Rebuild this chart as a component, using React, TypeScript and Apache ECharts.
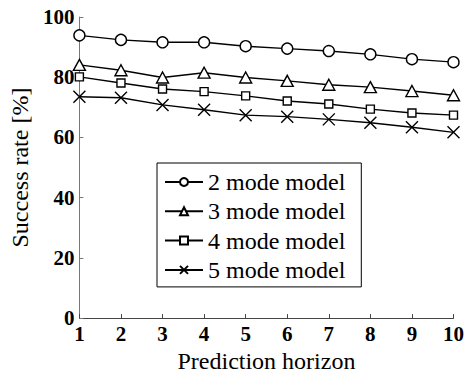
import React, { useEffect, useRef } from "react";
import * as echarts from "echarts";

const horizons = ["1", "2", "3", "4", "5", "6", "7", "8", "9", "10"];
const seriesNames = ["2 mode model", "3 mode model", "4 mode model", "5 mode model"];
const mode2 = [93.9, 92.4, 91.6, 91.6, 90.3, 89.5, 88.7, 87.6, 86.0, 85.0];
const mode3 = [84.1, 82.3, 79.9, 81.5, 79.9, 78.8, 77.5, 76.7, 75.4, 74.0];
const mode4 = [80.1, 78.1, 76.1, 75.2, 73.8, 72.1, 71.1, 69.4, 68.1, 67.4];
const mode5 = [73.5, 73.2, 70.8, 69.2, 67.4, 66.9, 66.0, 64.9, 63.4, 61.7];
const yTicks = [0, 20, 40, 60, 80, 100];

const FONT = "Liberation Serif, Times New Roman, Times, DejaVu Serif, serif";
const CROSS = "path://M0,0L10,10M10,0L0,10";

export default function App() {
  const ref = useRef<HTMLDivElement>(null);
  useEffect(() => {
    if (!ref.current) return;
    const chart = echarts.init(ref.current, undefined, { renderer: "svg" });
    const values = [mode2, mode3, mode4, mode5];
    const symbols = ["circle", "triangle", "rect", CROSS];
    const sizes: any[] = [11, [12, 11], 8, 12];
    chart.setOption({
      animation: false,
      backgroundColor: "#fff",
      textStyle: { fontFamily: FONT },
      grid: { left: 75, right: 12, top: 17, bottom: 48 },
      legend: {
        left: 157,
        top: 163,
        orient: "vertical",
        padding: [7, 16, 5, 7],
        itemGap: 5.3,
        itemWidth: 38,
        itemHeight: 10,
        itemTextGap: 5,
        borderColor: "#000",
        borderWidth: 1,
        backgroundColor: "#fff",
        data: seriesNames,
        textStyle: { fontFamily: FONT, fontSize: 24, lineHeight: 24, color: "#000" },
      },
      xAxis: {
        type: "category",
        data: horizons,
        boundaryGap: false,
        name: "Prediction horizon",
        nameLocation: "middle",
        nameGap: 23,
        nameTextStyle: { fontFamily: FONT, fontSize: 24, color: "#000" },
        axisLine: { lineStyle: { color: "#444", width: 1 } },
        axisTick: { inside: true, length: 4, alignWithLabel: true, lineStyle: { color: "#444" } },
        axisLabel: { margin: 5, fontFamily: FONT, fontSize: 21, fontWeight: "bold", color: "#000", interval: 0 },
        splitLine: { show: false },
      },
      yAxis: {
        type: "value",
        min: yTicks[0],
        max: yTicks[yTicks.length - 1],
        interval: 20,
        name: "Success rate [%]",
        nameLocation: "middle",
        nameGap: 41,
        nameTextStyle: { fontFamily: FONT, fontSize: 24, color: "#000" },
        axisLine: { show: true, lineStyle: { color: "#777", width: 1 } },
        axisTick: { show: true, inside: true, length: 4, lineStyle: { color: "#777" } },
        axisLabel: { margin: 5, fontFamily: FONT, fontSize: 21, fontWeight: "bold", color: "#000" },
        splitLine: { show: false },
      },
      series: seriesNames.map((name, i) => ({
        name,
        type: "line",
        data: values[i],
        symbol: symbols[i],
        symbolSize: sizes[i],
        showAllSymbol: true,
        lineStyle: { color: "#000", width: 1.4 },
        itemStyle: { color: "#fff", borderColor: "#000", borderWidth: 1.4 },
        emphasis: { disabled: true },
      })),
    });
    return () => chart.dispose();
  }, []);
  return (
    <div
      ref={ref}
      style={{ position: "fixed", left: 0, top: 0, width: 467, height: 378 }}
    />
  );
}
